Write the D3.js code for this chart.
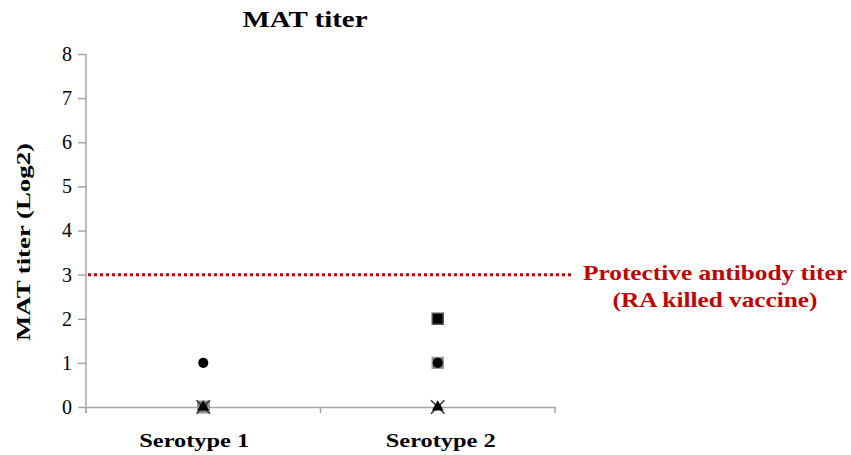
<!DOCTYPE html>
<html><head><meta charset="utf-8">
<script src="https://cdn.jsdelivr.net/npm/d3@7"></script>
<style>body{margin:0;background:#fff}svg{display:block}</style>
</head><body>
<svg id="c" width="851" height="455"></svg>
<script>
const categories = ["Serotype 1", "Serotype 2"];
const yTicks = [0,1,2,3,4,5,6,7,8];
const protectiveTiter = 3;
const seriesSquareGray = [0, 1];
const seriesSquareBlack = [0, 2];
const seriesCircle = [1, 1];
const seriesTriangle = [0, 0];
const seriesCross = [0, 0];

const series = [
  {name:"sq-black", values: seriesSquareBlack, shape: d3.symbolSquare, size: 120, fill:"#000", stroke:"#555"},
  {name:"sq-gray", values: seriesSquareGray, shape: d3.symbolSquare, size: 120, fill:"#777", stroke:"#999"},
  {name:"circle", values: seriesCircle, shape: d3.symbolCircle, size: 80, fill:"#000", stroke:"none"},
  {name:"cross", values: seriesCross, shape: d3.symbolX, size: 120, fill:"none", stroke:"#333"},
  {name:"triangle", values: seriesTriangle, shape: d3.symbolTriangle, size: 60, fill:"#000", stroke:"none"}
];

const svg = d3.select("#c");
const m = {l:86, r:555, t:54, b:407};
const x = d3.scaleBand().domain(categories).range([m.l, m.r]);
const y = d3.scaleLinear().domain([0,8]).range([m.b, m.t]);
const serif = "'Liberation Serif','Times New Roman',serif";
const stretch = sel => sel.attr("lengthAdjust","spacingAndGlyphs");

// title
svg.append("text").attr("x",305).attr("y",27).attr("text-anchor","middle")
  .attr("font-family",serif).attr("font-weight","bold").attr("font-size",24)
  .attr("textLength",125).call(stretch).text("MAT titer");

// y axis
const ya = svg.append("g").attr("transform",`translate(${m.l},0)`)
  .call(d3.axisLeft(y).tickValues(yTicks).tickFormat(d3.format("d")).tickSize(8).tickPadding(6));
ya.select(".domain").attr("stroke","#a6a6a6").attr("stroke-width",1.5).attr("d",`M0,${m.t}V${m.b+6}`);
ya.selectAll(".tick line").attr("stroke","#a6a6a6").attr("stroke-width",1.5);
ya.selectAll(".tick text").attr("font-family",serif).attr("font-size",20).attr("fill","#000")
  .attr("textLength",10).call(stretch);

// x axis
const xa = svg.append("g").attr("transform",`translate(0,${m.b})`)
  .call(d3.axisBottom(x).tickSize(0).tickPadding(27));
xa.select(".domain").attr("stroke","#a6a6a6").attr("stroke-width",1.5);
xa.selectAll(".tick text").attr("font-family",serif).attr("font-weight","bold").attr("font-size",19).attr("fill","#000")
  .attr("textLength",110).call(stretch).attr("dx",(d,i)=> i===0 ? -9 : 3);
// boundary ticks
const bounds = [m.l].concat(categories.map(c => x(c) + x.bandwidth()));
svg.append("g").selectAll("line").data(bounds).join("line")
  .attr("x1",d=>d).attr("x2",d=>d).attr("y1",m.b).attr("y2",m.b+6)
  .attr("stroke","#a6a6a6").attr("stroke-width",1.5);

// y label
svg.append("text").attr("transform",`translate(30,${242}) rotate(-90)`)
  .attr("text-anchor","middle").attr("font-family",serif).attr("font-weight","bold")
  .attr("font-size",18).attr("textLength",198).call(stretch).text("MAT titer (Log2)");

// protective line
svg.append("line").attr("x1",m.l+2).attr("x2",572).attr("y1",y(protectiveTiter)).attr("y2",y(protectiveTiter))
  .attr("stroke","#c00000").attr("stroke-width",3).attr("stroke-dasharray","3,3");
const ann = svg.append("g").attr("font-family",serif).attr("font-weight","bold")
  .attr("font-size",21).attr("fill","#c00000").attr("text-anchor","middle");
ann.append("text").attr("x",715).attr("y",280).attr("textLength",264).call(stretch).text("Protective antibody titer");
ann.append("text").attr("x",715).attr("y",307).attr("textLength",205).call(stretch).text("(RA killed vaccine)");

// points
series.forEach(s => {
  svg.append("g").selectAll("path").data(s.values).join("path")
    .attr("transform",(d,i)=>`translate(${x(categories[i])+x.bandwidth()/2},${y(d)})`)
    .attr("d", d3.symbol().type(s.shape).size(s.size))
    .attr("fill", s.fill).attr("stroke", s.stroke).attr("stroke-width", 1.5);
});
</script>
</body></html>
